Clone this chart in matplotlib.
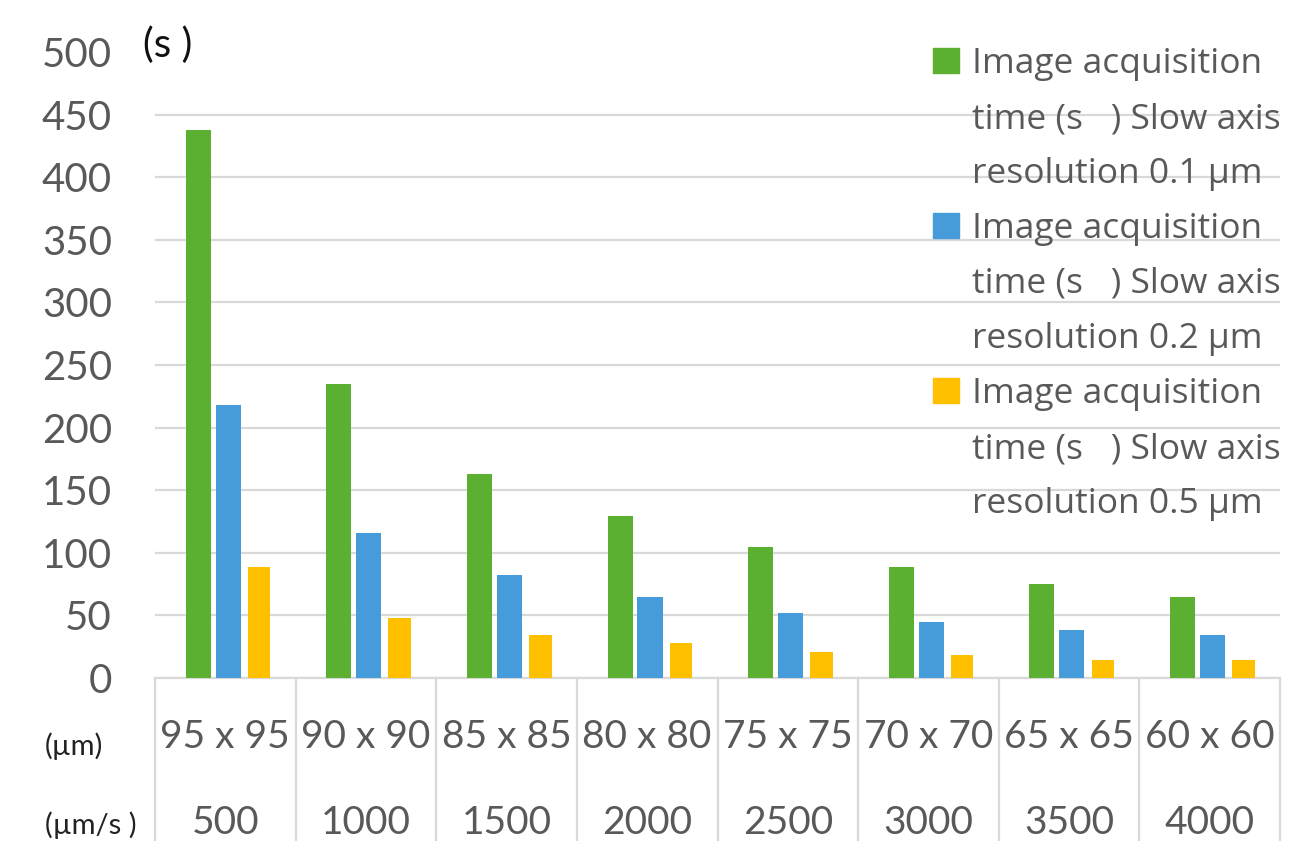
import matplotlib
matplotlib.use("Agg")
import matplotlib.pyplot as plt
import matplotlib.transforms as mtransforms
from matplotlib.patches import Rectangle
import numpy as np

plt.rcParams['font.family'] = ['Lato', 'DejaVu Sans']

# ---- data ----
sizes = ["95 x 95", "90 x 90", "85 x 85", "80 x 80", "75 x 75", "70 x 70", "65 x 65", "60 x 60"]
speeds = ["500", "1000", "1500", "2000", "2500", "3000", "3500", "4000"]
res_01 = [438, 235, 163, 129, 105, 89, 75, 65]
res_02 = [218, 116, 82, 65, 52, 45, 38, 34]
res_05 = [89, 48, 34, 28, 21, 18, 14, 14]
series_labels = [
    "Image acquisition\ntime (s   ) Slow axis\nresolution 0.1 µm",
    "Image acquisition\ntime (s   ) Slow axis\nresolution 0.2 µm",
    "Image acquisition\ntime (s   ) Slow axis\nresolution 0.5 µm",
]
row_labels = ["(µm)", "(µm/s )"]
y_unit = "(s )"
yticks = [0, 50, 100, 150, 200, 250, 300, 350, 400, 450, 500]

colors = ["#5BB031", "#469CDB", "#FFC000"]
text_gray = "#595959"
grid_gray = "#D9D9D9"

W, H = 1308, 841
fig = plt.figure(figsize=(W / 100, H / 100), dpi=100)

def fx(x):
    return x / W

def fy(y):
    return 1 - y / H

ax = fig.add_axes([fx(155), fy(678), fx(1280) - fx(155), (678 - 52) / H])

x = np.arange(len(sizes))
offsets = [-0.213, 0.0, 0.22]
widths = [0.178, 0.178, 0.16]
for vals, off, wd, c in zip([res_01, res_02, res_05], offsets, widths, colors):
    ax.bar(x + 0.02 + off, vals, width=wd, color=c, zorder=3)

ax.set_xlim(-0.5, len(sizes) - 0.5)
ax.set_ylim(0, 500)
ax.set_yticks(yticks)
ax.set_yticklabels([str(v) for v in yticks], fontsize=29, color=text_gray)
ax.tick_params(axis='y', length=0, pad=31)
ax.set_xticks([])
ax.grid(axis='y', color=grid_gray, linewidth=1.6, zorder=0)
ax.set_axisbelow(True)
gl = ax.yaxis.get_gridlines()
gl[-1].set_visible(False)
for s in ['top', 'right', 'left']:
    ax.spines[s].set_visible(False)
ax.spines['bottom'].set_color(grid_gray)
ax.spines['bottom'].set_linewidth(1.6)

# table-like category area
tr = mtransforms.blended_transform_factory(ax.transData, fig.transFigure)
for k in range(len(sizes) + 1):
    ax.plot([k - 0.5, k - 0.5], [fy(678), 0], color=grid_gray, linewidth=1.6,
            transform=tr, clip_on=False, zorder=1)
for i in range(len(sizes)):
    ax.text(i, fy(737), sizes[i], transform=tr, ha='center', va='center',
            fontsize=28, color=text_gray)
    ax.text(i, fy(823), speeds[i], transform=tr, ha='center', va='center',
            fontsize=28, color=text_gray)
fig.text(fx(45), fy(746), row_labels[0], ha='left', va='center', fontsize=21, color='#222222')
fig.text(fx(45), fy(825), row_labels[1], ha='left', va='center', fontsize=21, color='#222222')

# y unit
fig.text(fx(143), fy(45), y_unit, ha='left', va='center', fontsize=29, color='#111111')

# legend (manual, lines aligned with square on first line)
base_y = [73, 238, 403]
line_h = 55
for lbl, c, by in zip(series_labels, colors, base_y):
    fig.patches.append(Rectangle((fx(933), fy(by)), fx(26), 25 / H, color=c,
                                 transform=fig.transFigure, figure=fig))
    for j, line in enumerate(lbl.split("\n")):
        fig.text(fx(972), fy(by + j * line_h), line, ha='left', va='baseline',
                 fontsize=25.5, color=text_gray, family=['Open Sans', 'DejaVu Sans'])

fig.savefig("out.png", dpi=100)
